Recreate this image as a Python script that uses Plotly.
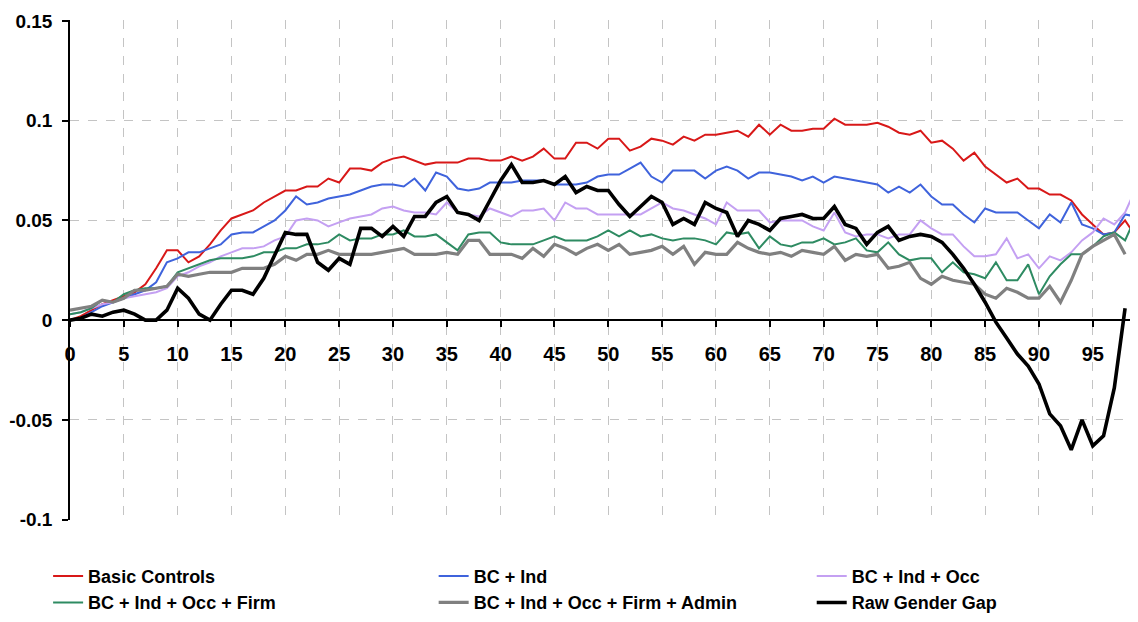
import plotly.graph_objects as go

percentile = list(range(100))
percentile_short = list(range(99))

basic_controls = [0.000,0.002,0.005,0.008,0.010,0.012,0.014,0.018,0.026,0.035,
 0.035,0.029,0.032,0.038,0.045,0.051,0.053,0.055,0.059,0.062,
 0.065,0.065,0.067,0.067,0.071,0.069,0.076,0.076,0.075,0.079,
 0.081,0.082,0.080,0.078,0.079,0.079,0.079,0.081,0.081,0.080,
 0.080,0.082,0.080,0.082,0.086,0.081,0.081,0.089,0.089,0.086,
 0.091,0.091,0.085,0.087,0.091,0.090,0.088,0.092,0.090,0.093,
 0.093,0.094,0.095,0.092,0.098,0.093,0.098,0.095,0.095,0.096,
 0.096,0.101,0.098,0.098,0.098,0.099,0.097,0.094,0.093,0.095,
 0.089,0.090,0.086,0.080,0.084,0.077,0.073,0.069,0.071,0.066,
 0.066,0.063,0.063,0.060,0.053,0.048,0.043,0.044,0.050,0.042]

bc_ind = [0.000,0.001,0.004,0.007,0.009,0.011,0.013,0.015,0.019,0.029,
 0.031,0.034,0.034,0.036,0.038,0.043,0.044,0.044,0.047,0.050,
 0.055,0.062,0.058,0.059,0.061,0.062,0.063,0.065,0.067,0.068,
 0.068,0.067,0.071,0.065,0.074,0.072,0.066,0.065,0.066,0.069,
 0.069,0.069,0.070,0.070,0.070,0.068,0.068,0.068,0.069,0.072,
 0.073,0.073,0.076,0.079,0.072,0.069,0.075,0.075,0.075,0.071,
 0.075,0.077,0.075,0.071,0.074,0.074,0.073,0.072,0.070,0.072,
 0.069,0.072,0.071,0.070,0.069,0.068,0.064,0.067,0.064,0.068,
 0.062,0.058,0.058,0.053,0.049,0.056,0.054,0.054,0.054,0.050,
 0.046,0.053,0.049,0.059,0.048,0.046,0.043,0.044,0.053,0.052]

bc_ind_occ = [0.003,0.004,0.006,0.008,0.009,0.011,0.012,0.013,0.014,0.016,
 0.022,0.024,0.027,0.029,0.032,0.034,0.036,0.036,0.037,0.040,
 0.042,0.050,0.051,0.050,0.047,0.049,0.051,0.052,0.053,0.056,
 0.057,0.055,0.054,0.054,0.053,0.059,0.054,0.053,0.052,0.056,
 0.054,0.052,0.055,0.055,0.056,0.050,0.059,0.056,0.056,0.053,
 0.053,0.053,0.053,0.053,0.056,0.059,0.056,0.055,0.053,0.051,
 0.048,0.059,0.055,0.055,0.055,0.049,0.050,0.050,0.050,0.047,
 0.045,0.054,0.044,0.042,0.043,0.043,0.041,0.043,0.043,0.050,
 0.046,0.043,0.043,0.037,0.032,0.032,0.033,0.041,0.031,0.033,
 0.026,0.032,0.030,0.034,0.040,0.044,0.051,0.048,0.054,0.066]

bc_ind_occ_firm = [0.003,0.004,0.006,0.010,0.009,0.013,0.015,0.016,0.016,0.017,
 0.024,0.026,0.028,0.030,0.031,0.031,0.031,0.032,0.034,0.034,
 0.036,0.036,0.038,0.038,0.039,0.043,0.040,0.041,0.041,0.043,
 0.043,0.045,0.042,0.042,0.043,0.039,0.035,0.043,0.044,0.044,
 0.039,0.038,0.038,0.038,0.040,0.042,0.040,0.040,0.040,0.042,
 0.045,0.042,0.045,0.042,0.043,0.041,0.040,0.041,0.041,0.040,
 0.038,0.044,0.043,0.044,0.036,0.042,0.038,0.037,0.039,0.039,
 0.041,0.038,0.039,0.041,0.035,0.034,0.039,0.033,0.030,0.031,
 0.031,0.024,0.029,0.024,0.023,0.021,0.029,0.020,0.020,0.028,
 0.013,0.022,0.028,0.033,0.033,0.037,0.042,0.044,0.040,0.052]

bc_ind_occ_firm_admin = [0.005,0.006,0.007,0.010,0.009,0.011,0.015,0.015,0.016,0.017,
 0.023,0.022,0.023,0.024,0.024,0.024,0.026,0.026,0.026,0.028,
 0.032,0.030,0.033,0.033,0.035,0.033,0.033,0.033,0.033,0.034,
 0.035,0.036,0.033,0.033,0.033,0.034,0.033,0.040,0.040,0.033,
 0.033,0.033,0.031,0.036,0.032,0.038,0.036,0.033,0.036,0.038,
 0.035,0.038,0.033,0.034,0.035,0.037,0.033,0.037,0.028,0.034,
 0.033,0.033,0.039,0.036,0.034,0.033,0.034,0.032,0.035,0.034,
 0.033,0.037,0.030,0.033,0.032,0.033,0.026,0.027,0.029,0.021,
 0.018,0.022,0.020,0.019,0.018,0.013,0.011,0.016,0.014,0.011,
 0.011,0.017,0.009,0.020,0.033,0.037,0.040,0.043,0.033]

raw_gender_gap = [0.000,0.001,0.003,0.002,0.004,0.005,0.003,0.000,0.000,0.005,
 0.016,0.011,0.003,0.000,0.008,0.015,0.015,0.013,0.021,0.033,
 0.044,0.043,0.043,0.029,0.025,0.031,0.028,0.046,0.046,0.042,
 0.047,0.042,0.052,0.052,0.059,0.062,0.054,0.053,0.050,0.060,
 0.070,0.078,0.069,0.069,0.070,0.068,0.072,0.064,0.067,0.065,
 0.065,0.058,0.052,0.057,0.062,0.059,0.048,0.051,0.048,0.059,
 0.056,0.054,0.042,0.050,0.048,0.045,0.051,0.052,0.053,0.051,
 0.051,0.057,0.048,0.046,0.038,0.044,0.047,0.040,0.042,0.043,
 0.042,0.039,0.033,0.026,0.018,0.009,-0.001,-0.009,-0.017,-0.023,
 -0.032,-0.047,-0.053,-0.065,-0.050,-0.063,-0.058,-0.034,0.006]

x_tick_vals = list(range(0, 100, 5))
x_tick_text = [str(v) for v in x_tick_vals]
y_tick_vals = [0.15, 0.1, 0.05, 0, -0.05, -0.1]
y_tick_text = ["0.15", "0.1", "0.05", "0", "-0.05", "-0.1"]

# (name, x, y, colour, width, legend column)
series = [
    ("Basic Controls", percentile, basic_controls, "#D81818", 2, "legend"),
    ("BC + Ind", percentile, bc_ind, "#3F63DC", 2, "legend2"),
    ("BC + Ind + Occ", percentile, bc_ind_occ, "#C4A0F2", 2, "legend3"),
    ("BC + Ind + Occ + Firm", percentile, bc_ind_occ_firm, "#2E8B62", 2, "legend"),
    ("BC + Ind + Occ + Firm + Admin", percentile_short, bc_ind_occ_firm_admin, "#808080", 3.2, "legend2"),
    ("Raw Gender Gap", percentile_short, raw_gender_gap, "#000000", 3.6, "legend3"),
]

fig = go.Figure()
for name, xs, ys, color, width, leg in series:
    fig.add_trace(go.Scatter(x=xs, y=ys, mode="lines", name=name, legend=leg,
                             line=dict(color=color, width=width)))

font_family = "Liberation Sans, Arial, sans-serif"
legend_font = dict(family=font_family, size=18, color="black", weight="bold")
legend_y = -0.0757

def legend_at(xp):
    return dict(orientation="v", x=xp, xanchor="left", y=legend_y, yanchor="top",
                font=legend_font, bgcolor="rgba(0,0,0,0)", traceorder="normal")

# the page puts the figure 8px in from the top-left corner
fig.update_layout(
    width=1130, height=614,
    margin=dict(l=62, r=0, t=12, b=102),
    plot_bgcolor="white", paper_bgcolor="white",
    font=dict(family=font_family, color="black"),
    showlegend=True,
    legend=legend_at(-0.0205),
    legend2=legend_at(0.3405),
    legend3=legend_at(0.6945),
    xaxis=dict(
        range=[0, 99.2], tickvals=x_tick_vals, ticktext=x_tick_text,
        showgrid=True, gridcolor="#C4C4C4", griddash="dash", gridwidth=1,
        showline=True, linecolor="black", linewidth=1.5,
        ticks="outside", ticklen=6, tickcolor="black", tickwidth=1.5,
        tickfont=dict(family=font_family, size=20, color="black", weight="bold"),
        anchor="free", position=0.4, zeroline=False,
        ticklabelstandoff=10, automargin=False, ticklabeloverflow="allow",
    ),
    yaxis=dict(
        range=[-0.1002, 0.1505], tickvals=y_tick_vals, ticktext=y_tick_text,
        showgrid=True, gridcolor="#C4C4C4", griddash="dash", gridwidth=1,
        showline=True, linecolor="black", linewidth=1.5,
        ticks="outside", ticklen=6, tickcolor="black", tickwidth=1.5,
        tickfont=dict(family=font_family, size=19, color="black", weight="bold"),
        zeroline=False, ticklabelstandoff=6, automargin=False,
        ticklabeloverflow="allow",
    ),
)

fig.write_html("out.html")
